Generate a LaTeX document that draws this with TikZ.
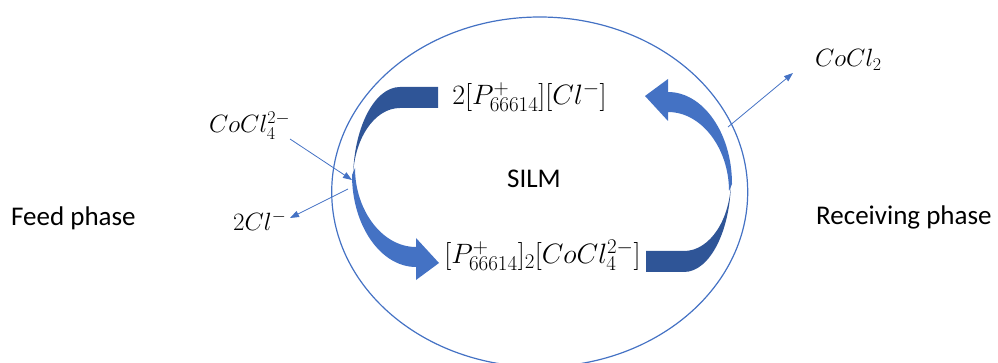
\documentclass[tikz,border=0pt]{standalone}
\usepackage{fix-cm}
\usepackage{fontspec}
\setmainfont{Carlito}
\usetikzlibrary{arrows.meta}
\DeclareMathSizes{25}{25}{18}{13}
\DeclareMathSizes{28}{28}{21}{15}
\definecolor{accblue}{RGB}{68,114,196}
\definecolor{darkblue}{RGB}{47,85,151}
\newcommand\curvedarr{%
  \fill[accblue] (352,175) .. controls (352,226) and (381,267) .. (416,267)
    -- (416,280) -- (439,263) -- (416,238) -- (416,247)
    .. controls (382,247) and (355,210) .. (355,168) -- cycle;
  \fill[darkblue] (438,87) -- (400,87) .. controls (374,87) and (353,129) .. (353,180)
    .. controls (353,140) and (374,108) .. (400,108) -- (438,108) -- cycle;
}
\tikzset{
  lab/.style={inner sep=0pt, font=\fontsize{27}{32}\selectfont},
  mathbig/.style={inner sep=0pt, font=\fontsize{28}{33}\selectfont},
  mathsm/.style={inner sep=0pt, font=\fontsize{25}{30}\selectfont},
  thinarrow/.style={draw=accblue, line width=0.8pt, -{Triangle[length=9pt,width=6.5pt]}},
  membrane/.style={draw=accblue, line width=1.2pt}
}
\begin{document}
\begin{tikzpicture}[x=1pt,y=-1pt]
\useasboundingbox (0,0) rectangle (998,363);
% membrane
\draw[membrane] (539.7,192) ellipse [x radius=208, y radius=175];
% curved arrows
\curvedarr
\begin{scope}[rotate around={180:(542,179.5)}]
\curvedarr
\end{scope}
% labels
\node[lab, anchor=base west] (feed) at (11,226) {Feed phase};
\node[lab, anchor=base west] (recv) at (816,225) {Receiving phase};
\node[lab, anchor=base] (silm) at (534,188) {SILM};
\node[mathbig, anchor=base] (pcl) at (529.5,105) {$2[P^+_{66614}][Cl^-]$};
\node[mathbig, anchor=base] (pco) at (542.5,264) {$[P^+_{66614}]_2[CoCl_4^{2-}]$};
\node[mathsm, anchor=base west] (cocl4) at (209,133) {$CoCl_4^{2-}$};
\node[mathsm, anchor=base west] (cl) at (233,231) {$2Cl^-$};
\node[mathsm, anchor=base west] (cocl2) at (815,67) {$CoCl_2$};
% thin arrows
\coordinate (inA) at (290,139);
\coordinate (inB) at (352,180);
\coordinate (outA) at (348,189);
\coordinate (outB) at (290,218);
\coordinate (rcA) at (728,127);
\coordinate (rcB) at (793,73);
\draw[thinarrow] (inA) -- (inB);
\draw[thinarrow] (outA) -- (outB);
\draw[thinarrow] (rcA) -- (rcB);
\end{tikzpicture}
\end{document}
